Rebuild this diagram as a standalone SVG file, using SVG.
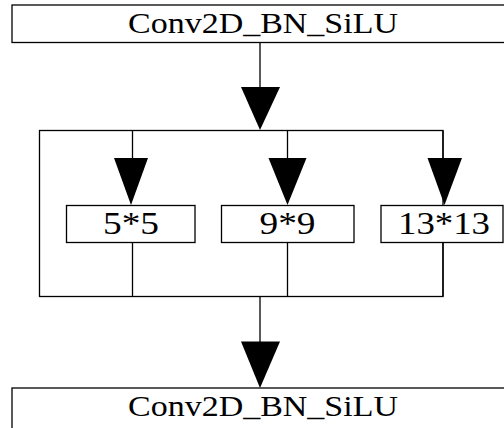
<svg xmlns="http://www.w3.org/2000/svg" width="504" height="428" viewBox="0 0 504 428">
<style>
.box{fill:#fff;stroke:#000;stroke-width:1.3}
.ln{fill:none;stroke:#000;stroke-width:1.3}
.ah{fill:#000;stroke:none}
.mono{font-family:"Liberation Serif","DejaVu Serif",serif;font-size:30px;fill:#000}
.ser{font-family:"Liberation Serif","DejaVu Serif",serif;font-size:32px;fill:#000}
</style>
<rect width="504" height="428" fill="#fff"/>
<g id="connectors">
<line class="ln" x1="260" y1="43" x2="260" y2="90"/>
<polygon class="ah" points="241,87 280,87 260,130"/>
<rect class="ln" x="39.5" y="130.5" width="403.5" height="166"/>
<line class="ln" x1="132.5" y1="130.5" x2="132.5" y2="160"/>
<polygon class="ah" points="114,158 148,158 131,205"/>
<line class="ln" x1="287.5" y1="130.5" x2="287.5" y2="160"/>
<polygon class="ah" points="268.5,158 306.5,158 287.5,205"/>
<line class="ln" x1="443" y1="130.5" x2="443" y2="160"/>
<polygon class="ah" points="427.5,158 462,158 444.5,205"/>
<line class="ln" x1="132.5" y1="242.5" x2="132.5" y2="296.5"/>
<line class="ln" x1="287.5" y1="242.5" x2="287.5" y2="296.5"/>
<line class="ln" x1="443" y1="242.5" x2="443" y2="296.5"/>
<line class="ln" x1="260" y1="296.5" x2="260" y2="345"/>
<polygon class="ah" points="241,341.5 280,341.5 260,388"/>
</g>
<g id="top">
<rect class="box" x="12" y="5" width="500" height="37.5"/>
<text class="mono" x="263" y="33" text-anchor="middle" textLength="270" lengthAdjust="spacingAndGlyphs">Conv2D_BN_SiLU</text>
</g>
<g id="k5">
<rect class="box" x="66.5" y="205.5" width="128.5" height="37"/>
<text class="ser" x="131" y="234" text-anchor="middle" textLength="56" lengthAdjust="spacingAndGlyphs">5*5</text>
</g>
<g id="k9">
<rect class="box" x="221.5" y="205.5" width="132.5" height="37"/>
<text class="ser" x="287.5" y="234" text-anchor="middle" textLength="56" lengthAdjust="spacingAndGlyphs">9*9</text>
</g>
<g id="k13">
<rect class="box" x="381" y="205.5" width="122" height="37"/>
<text class="ser" x="444" y="234" text-anchor="middle" textLength="92" lengthAdjust="spacingAndGlyphs">13*13</text>
</g>
<g id="bottom">
<rect class="box" x="12" y="388" width="500" height="50"/>
<text class="mono" x="263" y="416" text-anchor="middle" textLength="270" lengthAdjust="spacingAndGlyphs">Conv2D_BN_SiLU</text>
</g>
</svg>
